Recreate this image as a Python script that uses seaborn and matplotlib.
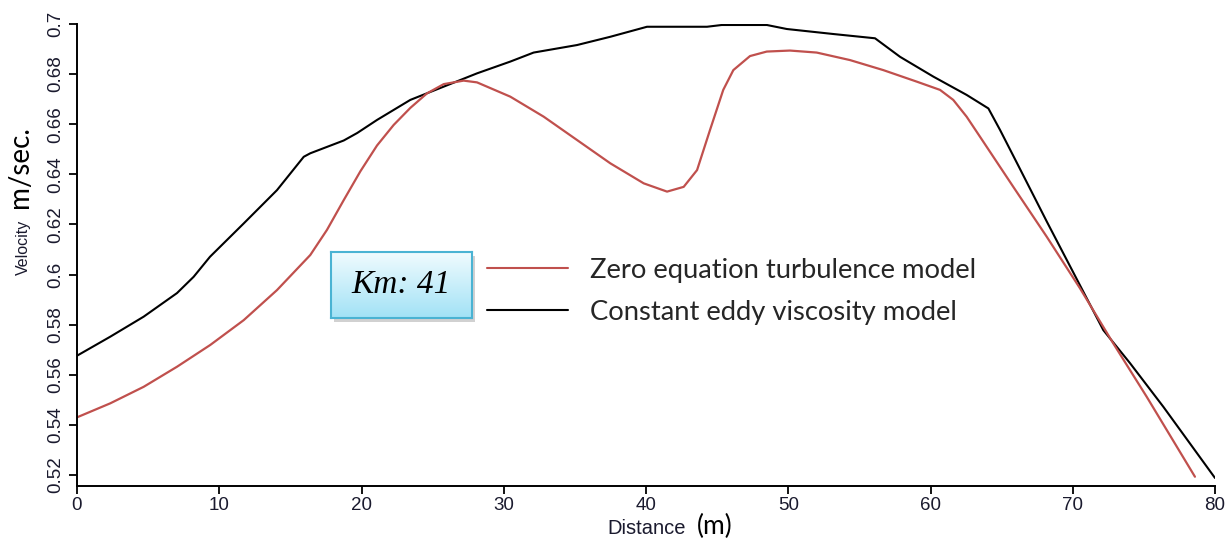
import numpy as np
import pandas as pd
import matplotlib
matplotlib.use("Agg")
import matplotlib.pyplot as plt
import seaborn as sns
from matplotlib.lines import Line2D
from matplotlib.colors import LinearSegmentedColormap
from matplotlib.patches import Rectangle

# ---------------- data ----------------
black_x = [0, 2.34, 4.69, 7.03, 8.2, 9.35, 11.72, 14.06, 15.94, 16.4, 18.75, 19.7,
           21.09, 23.43, 25.78, 28.12, 30.46, 32.1, 35.15, 37.49, 40.07, 44.29,
           45.32, 48.5, 49.9, 53.17, 56.1, 57.86, 60.2, 62.54, 64.07, 64.89,
           66.17, 68.17, 70.28, 72.15, 74.03, 76.37, 80.0]
black_y = [0.5676, 0.5752, 0.5832, 0.5926, 0.5991, 0.6071, 0.6204, 0.6337, 0.647,
           0.6484, 0.6535, 0.6565, 0.6617, 0.6697, 0.675, 0.6803, 0.685, 0.6886,
           0.6916, 0.6949, 0.6989, 0.6989, 0.6996, 0.6996, 0.698, 0.696, 0.6943,
           0.6869, 0.679, 0.6717, 0.6663, 0.6577, 0.6435, 0.6212, 0.5982, 0.5778,
           0.5646, 0.5472, 0.5188]

red_x = [0, 2.34, 4.69, 7.03, 9.37, 11.72, 14.06, 16.4, 17.57, 18.75, 19.92, 21.09,
         22.26, 23.43, 24.6, 25.78, 27.18, 28.12, 30.46, 32.81, 35.15, 37.49,
         39.84, 41.48, 42.65, 43.59, 44.5, 45.43, 46.14, 47.31, 48.49, 50.12,
         52.0, 54.34, 56.68, 59.03, 60.67, 61.6, 62.54, 63.48, 65.82, 68.17,
         70.51, 72.85, 75.2, 78.59]
red_y = [0.543, 0.5486, 0.5552, 0.5632, 0.5719, 0.5818, 0.5938, 0.6078, 0.6178,
         0.6297, 0.6412, 0.6515, 0.6597, 0.6665, 0.6723, 0.676, 0.6774, 0.6767,
         0.671, 0.663, 0.6537, 0.6444, 0.6364, 0.6331, 0.635, 0.6417, 0.6577,
         0.6737, 0.6816, 0.6872, 0.689, 0.6894, 0.6886, 0.6856, 0.6816, 0.677,
         0.6737, 0.6697, 0.663, 0.655, 0.635, 0.6151, 0.5945, 0.5725, 0.5512,
         0.5193]

series_names = ["Zero equation turbulence model", "Constant eddy viscosity model"]
series_colors = ["#c0504d", "#000000"]
x_ticks = [0, 10, 20, 30, 40, 50, 60, 70, 80]
y_ticks = [0.52, 0.54, 0.56, 0.58, 0.6, 0.62, 0.64, 0.66, 0.68, 0.7]
y_tick_labels = ["0.52", "0.54", "0.56", "0.58", "0.6", "0.62", "0.64", "0.66", "0.68", "0.7"]
box_text = "Km: 41"

# ---------------- figure ----------------
sns.set_style("ticks")
plt.rcParams["font.family"] = ["Liberation Sans", "DejaVu Sans"]

W, H = 1229, 540
fig = plt.figure(figsize=(W / 100, H / 100), dpi=100)
L, R, T, B = 77, 1215, 24, 486
ax = fig.add_axes([L / W, 1 - B / H, (R - L) / W, (B - T) / H])

df_red = pd.DataFrame({"x": red_x, "y": red_y})
df_blk = pd.DataFrame({"x": black_x, "y": black_y})
sns.lineplot(data=df_blk, x="x", y="y", ax=ax, color=series_colors[1], lw=1.5,
             sort=False, estimator=None)
sns.lineplot(data=df_red, x="x", y="y", ax=ax, color=series_colors[0], lw=1.6,
             sort=False, estimator=None)

ax.set_xlim(0, 80)
ax.set_ylim(0.5156, 0.7)
ax.set_xticks(x_ticks)
ax.set_xticklabels([str(v) for v in x_ticks])
ax.set_yticks(y_ticks)
ax.set_yticklabels(y_tick_labels, rotation=90, va="center")
ax.tick_params(axis="both", direction="out", length=6, width=1.3, colors="black",
               labelsize=13.5, labelcolor="#1a1a2e")
ax.tick_params(axis="x", pad=2)
ax.tick_params(axis="y", pad=3)
for s in ["top", "right"]:
    ax.spines[s].set_visible(False)
for s in ["left", "bottom"]:
    ax.spines[s].set_linewidth(1.4)
    ax.spines[s].set_color("black")
ax.set_xlabel("")
ax.set_ylabel("")

# axis labels
fig.text(607 / W, 1 - 534 / H, "Distance", fontsize=14.5, ha="left", va="baseline",
         color="#1a1a2e")
fig.text(697 / W, 1 - 534 / H, "(m)", fontsize=19, ha="left", va="baseline",
         family=["Lato", "DejaVu Sans"], color="black")
fig.text(23 / W, 1 - 247 / H, "Velocity", fontsize=11.5, rotation=90, ha="center",
         va="center", color="#1a1a2e")
fig.text(20 / W, 1 - 167 / H, "m/sec.", fontsize=20, rotation=90, ha="center",
         va="center", family=["Lato", "DejaVu Sans"], color="black")

# legend
handles = [Line2D([], [], color=c, lw=1.5) for c in series_colors]
leg = ax.legend(handles, series_names, loc="upper left",
                bbox_to_anchor=(487 / W, 1 - 258 / H), bbox_transform=fig.transFigure,
                frameon=False, borderpad=0, borderaxespad=0,
                prop={"family": ["Lato", "DejaVu Sans"], "size": 19.7},
                handlelength=2.95, handletextpad=0.8, labelspacing=0.62)

# Km box with gradient and shadow
bx0, bx1, by0, by1 = 331, 472, 252, 318
shadow = Rectangle(((bx0 + 3) / W, 1 - (by1 + 4) / H), (bx1 - bx0) / W, (by1 - by0) / H,
                   transform=fig.transFigure, facecolor="#9a9a9a", alpha=0.45,
                   edgecolor="none", zorder=2)
fig.patches.append(shadow)
bax = fig.add_axes([bx0 / W, 1 - by1 / H, (bx1 - bx0) / W, (by1 - by0) / H], zorder=3)
cmap = LinearSegmentedColormap.from_list("km", ["#f0fbfe", "#a2e2f6"])
grad = np.linspace(0, 1, 100).reshape(-1, 1)
bax.imshow(grad, aspect="auto", cmap=cmap, extent=(0, 1, 0, 1), origin="upper")
bax.set_xticks([])
bax.set_yticks([])
for s in bax.spines.values():
    s.set_color("#4ab3d3")
    s.set_linewidth(1.5)
bax.text(0.5, 0.5, box_text, transform=bax.transAxes, ha="center", va="center",
         fontsize=24, style="italic", family=["Liberation Serif", "DejaVu Serif"],
         color="black")

fig.savefig("out.png", dpi=100)
